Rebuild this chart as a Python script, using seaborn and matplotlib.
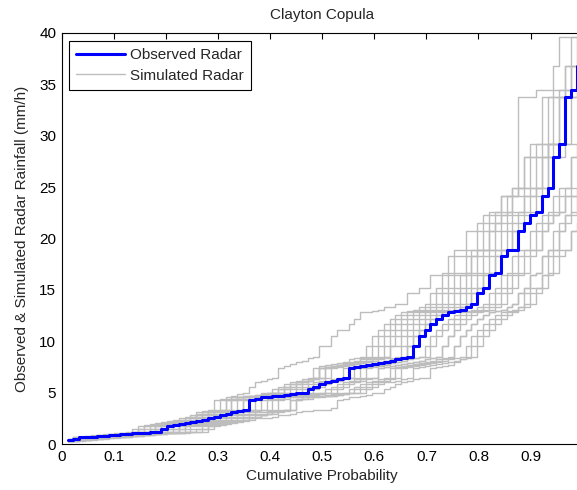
import numpy as np
import pandas as pd
import matplotlib
matplotlib.use("Agg")
import matplotlib.pyplot as plt
from matplotlib.lines import Line2D
import seaborn as sns

# Sorted observed radar rainfall (mm/h)
observed_radar = [
    0.40, 0.45, 0.65, 0.70, 0.70, 0.75, 0.80, 0.85, 0.90, 0.95, 1.00,
    1.05, 1.10, 1.10, 1.15, 1.15, 1.50, 1.80, 1.85, 1.90, 2.00, 2.10,
    2.25, 2.35, 2.50, 2.65, 2.80, 2.95, 3.10, 3.20, 3.35, 4.30, 4.40,
    4.55, 4.60, 4.65, 4.70, 4.80, 4.85, 4.95, 5.00, 5.40, 5.50, 5.80,
    6.05, 6.10, 6.30, 6.45, 7.35, 7.45, 7.55, 7.65, 7.75, 7.85, 8.00,
    8.10, 8.25, 8.35, 8.50, 9.50, 10.5, 11.1, 11.7, 12.2, 12.6, 12.8,
    12.9, 13.0, 13.3, 13.6, 14.7, 15.2, 16.4, 16.6, 18.3, 18.9, 18.9,
    20.7, 21.5, 22.3, 22.6, 24.1, 24.9, 27.9, 29.2, 33.8, 34.5, 36.8,
]

# Sorted simulated radar rainfall realisations (mm/h)
simulated_radar = [
    [0.45, 0.65, 0.70, 0.70, 0.75, 0.80, 0.85, 0.90, 0.95, 1.00, 1.05,
     1.15, 1.50, 1.80, 1.85, 1.90, 2.00, 2.10, 2.25, 2.35, 2.50, 2.65,
     3.10, 3.20, 3.35, 4.30, 4.40, 4.60, 4.70, 4.85, 5.00, 5.50, 6.05,
     6.10, 6.30, 6.45, 7.35, 7.55, 7.75, 8.00, 8.10, 8.35, 8.50, 9.50,
     9.50, 10.5, 11.1, 11.1, 11.7, 12.2, 12.8, 12.8, 12.9, 13.0, 13.3,
     13.3, 13.6, 13.6, 14.7, 14.7, 15.2, 15.2, 16.4, 16.4, 16.6, 18.3,
     18.9, 18.9, 20.7, 20.7, 21.5, 22.3, 22.6, 22.6, 24.1, 24.1, 24.9,
     33.8, 33.8, 33.8, 34.5, 34.5, 34.5, 36.8, 39.6, 39.6, 39.6, 39.6],
    [0.40, 0.65, 0.65, 0.70, 0.75, 0.75, 0.80, 0.90, 0.95, 1.00, 1.05,
     1.15, 1.15, 1.50, 1.80, 1.85, 1.90, 2.00, 2.10, 2.25, 2.35, 2.50,
     2.80, 2.95, 3.10, 3.20, 3.35, 4.30, 4.55, 4.60, 4.65, 4.70, 4.80,
     4.95, 5.00, 5.40, 5.50, 5.80, 6.05, 6.10, 6.30, 6.45, 7.35, 7.55,
     7.65, 7.75, 7.85, 8.00, 8.25, 8.35, 8.50, 9.50, 10.5, 11.1, 11.7,
     12.2, 12.6, 12.8, 12.9, 13.0, 13.3, 13.6, 14.7, 15.2, 16.4, 16.6,
     18.3, 18.3, 18.9, 18.9, 20.7, 21.5, 22.3, 22.6, 24.1, 24.1, 24.9,
     24.9, 27.9, 27.9, 29.2, 29.2, 33.8, 33.8, 34.5, 36.8, 39.6, 39.6],
    [0.35, 0.45, 0.60, 0.70, 0.75, 0.80, 0.85, 0.90, 0.95, 1.00, 1.05,
     1.10, 1.15, 1.15, 1.50, 1.80, 1.85, 1.90, 2.00, 2.10, 2.25, 2.35,
     2.65, 2.80, 2.95, 3.10, 3.20, 3.35, 4.30, 4.55, 4.60, 4.65, 4.70,
     4.85, 4.95, 5.00, 5.40, 5.50, 5.80, 6.05, 6.10, 6.30, 6.45, 7.35,
     7.45, 7.55, 7.65, 7.75, 7.85, 8.00, 8.25, 8.35, 8.50, 9.50, 10.5,
     11.1, 11.7, 12.2, 12.6, 12.8, 12.9, 13.0, 13.3, 13.6, 14.7, 15.2,
     16.4, 16.4, 16.6, 18.3, 18.9, 18.9, 20.7, 21.5, 22.3, 22.6, 24.1,
     24.1, 24.9, 24.9, 27.9, 27.9, 29.2, 29.2, 33.8, 34.5, 36.8, 36.8],
    [0.40, 0.50, 0.65, 0.70, 0.75, 0.80, 0.85, 0.85, 0.90, 1.00, 1.05,
     1.10, 1.10, 1.15, 1.15, 1.50, 1.80, 1.85, 1.90, 2.00, 2.10, 2.25,
     2.50, 2.65, 2.80, 2.95, 3.10, 3.20, 3.35, 4.30, 4.40, 4.55, 4.60,
     4.70, 4.80, 4.85, 4.95, 5.00, 5.40, 5.50, 5.80, 6.10, 6.30, 6.45,
     7.35, 7.45, 7.55, 7.65, 7.75, 7.85, 8.00, 8.10, 8.25, 8.35, 8.50,
     9.50, 10.5, 11.1, 11.7, 12.2, 12.6, 12.8, 12.9, 13.0, 13.3, 13.6,
     14.7, 15.2, 16.4, 16.6, 18.3, 18.9, 18.9, 20.7, 21.5, 22.3, 22.6,
     22.6, 24.1, 24.1, 24.9, 24.9, 27.9, 27.9, 29.2, 29.2, 33.8, 34.5],
    [0.35, 0.40, 0.50, 0.60, 0.70, 0.70, 0.75, 0.80, 0.85, 0.90, 0.95,
     1.00, 1.10, 1.10, 1.15, 1.30, 1.50, 1.80, 1.85, 1.90, 2.00, 2.10,
     2.35, 2.50, 2.65, 2.80, 2.95, 3.10, 3.20, 3.35, 4.30, 4.40, 4.55,
     4.65, 4.70, 4.80, 4.85, 4.95, 5.00, 5.40, 5.50, 5.80, 6.05, 6.10,
     6.45, 7.35, 7.45, 7.55, 7.65, 7.75, 7.85, 8.00, 8.10, 8.25, 8.35,
     8.35, 8.50, 9.50, 10.5, 11.1, 11.7, 12.2, 12.6, 12.8, 12.9, 13.0,
     13.3, 13.6, 14.7, 15.2, 16.4, 16.6, 18.3, 18.9, 18.9, 20.7, 21.5,
     22.3, 22.6, 24.1, 24.9, 27.9, 29.2, 29.2, 29.2, 33.8, 33.8, 33.8],
    [0.30, 0.40, 0.45, 0.55, 0.65, 0.70, 0.70, 0.75, 0.80, 0.85, 0.90,
     1.00, 1.05, 1.10, 1.10, 1.15, 1.15, 1.50, 1.80, 1.85, 1.90, 2.00,
     2.10, 2.25, 2.35, 2.50, 2.65, 2.80, 2.95, 3.10, 3.20, 3.35, 4.30,
     4.55, 4.60, 4.65, 4.70, 4.80, 4.85, 4.95, 5.00, 5.40, 5.50, 5.80,
     6.05, 6.10, 6.30, 6.45, 6.45, 7.35, 7.45, 7.65, 7.85, 8.00, 8.10,
     8.25, 8.35, 8.50, 9.50, 10.5, 11.1, 11.7, 12.2, 12.6, 12.8, 12.9,
     13.0, 13.3, 13.6, 14.7, 15.2, 16.4, 16.6, 18.3, 18.9, 18.9, 20.7,
     20.7, 21.5, 22.3, 22.6, 24.1, 24.9, 27.9, 27.9, 29.2, 29.2, 29.2],
    [0.30, 0.35, 0.45, 0.50, 0.60, 0.65, 0.70, 0.70, 0.75, 0.80, 0.85,
     0.95, 1.00, 1.05, 1.10, 1.10, 1.15, 1.15, 1.50, 1.80, 1.85, 1.90,
     2.00, 2.10, 2.25, 2.35, 2.50, 2.65, 2.80, 2.95, 3.10, 3.20, 3.35,
     3.35, 4.30, 4.40, 4.55, 4.60, 4.65, 4.70, 4.80, 4.85, 4.95, 5.00,
     5.40, 5.50, 5.80, 6.05, 6.10, 6.30, 6.45, 7.35, 7.45, 7.55, 7.65,
     7.85, 8.00, 8.10, 8.25, 8.35, 8.50, 9.50, 10.5, 11.1, 11.7, 12.2,
     12.6, 12.8, 12.9, 13.0, 13.3, 13.6, 14.7, 15.2, 16.4, 16.6, 18.3,
     18.9, 18.9, 20.7, 21.5, 22.3, 22.6, 24.1, 24.9, 24.9, 27.9, 27.9],
    [0.30, 0.35, 0.40, 0.45, 0.55, 0.65, 0.70, 0.70, 0.75, 0.80, 0.80,
     0.90, 0.95, 1.00, 1.05, 1.10, 1.10, 1.15, 1.15, 1.50, 1.80, 1.85,
     1.85, 1.90, 2.00, 2.10, 2.25, 2.35, 2.50, 2.65, 2.80, 2.95, 3.10,
     3.10, 3.20, 3.35, 4.30, 4.40, 4.55, 4.60, 4.65, 4.70, 4.80, 4.85,
     4.95, 5.00, 5.40, 5.50, 5.80, 6.05, 6.10, 6.30, 6.45, 7.35, 7.45,
     7.55, 7.65, 7.75, 7.85, 8.00, 8.10, 8.25, 8.35, 8.50, 9.50, 10.5,
     11.7, 12.2, 12.6, 12.8, 12.9, 13.0, 13.3, 13.6, 14.7, 15.2, 16.4,
     16.6, 18.3, 18.9, 18.9, 20.7, 21.5, 22.3, 22.6, 24.1, 24.9, 24.9],
    [0.30, 0.30, 0.40, 0.45, 0.50, 0.60, 0.65, 0.70, 0.70, 0.75, 0.80,
     0.85, 0.90, 0.95, 1.00, 1.05, 1.10, 1.10, 1.15, 1.15, 1.50, 1.80,
     1.80, 1.85, 1.90, 2.00, 2.10, 2.25, 2.35, 2.50, 2.65, 2.80, 2.95,
     2.95, 3.10, 3.20, 3.35, 3.35, 4.30, 4.40, 4.55, 4.60, 4.65, 4.70,
     4.70, 4.80, 4.85, 4.95, 5.00, 5.40, 5.50, 5.80, 6.05, 6.10, 6.30,
     6.45, 7.35, 7.45, 7.55, 7.65, 7.75, 7.85, 8.00, 8.10, 8.25, 8.35,
     9.50, 10.5, 11.1, 11.7, 12.2, 12.6, 12.8, 12.9, 13.0, 13.3, 13.6,
     14.7, 15.2, 16.4, 16.6, 18.3, 18.9, 18.9, 20.7, 21.5, 22.3, 22.6],
    [0.30, 0.30, 0.35, 0.40, 0.45, 0.50, 0.55, 0.65, 0.70, 0.70, 0.75,
     0.80, 0.85, 0.90, 0.95, 1.00, 1.05, 1.10, 1.10, 1.15, 1.15, 1.50,
     1.50, 1.80, 1.85, 1.90, 2.00, 2.10, 2.25, 2.35, 2.50, 2.65, 2.80,
     2.80, 2.95, 3.10, 3.20, 3.35, 3.35, 4.30, 4.40, 4.55, 4.60, 4.65,
     4.65, 4.70, 4.80, 4.85, 4.95, 5.00, 5.00, 5.40, 5.50, 5.80, 6.05,
     6.05, 6.10, 6.30, 6.45, 7.35, 7.45, 7.55, 7.65, 7.75, 7.85, 8.00,
     8.10, 8.25, 8.35, 8.50, 9.50, 10.5, 11.1, 11.7, 12.2, 12.6, 12.8,
     13.0, 13.3, 13.6, 14.7, 15.2, 16.4, 16.6, 18.3, 18.9, 20.7, 21.5],
    [0.30, 0.30, 0.30, 0.35, 0.40, 0.45, 0.50, 0.55, 0.60, 0.65, 0.70,
     0.75, 0.80, 0.85, 0.90, 0.95, 1.00, 1.05, 1.10, 1.10, 1.15, 1.15,
     1.15, 1.15, 1.50, 1.80, 1.85, 1.90, 2.00, 2.10, 2.25, 2.35, 2.50,
     2.50, 2.50, 2.65, 2.80, 2.80, 2.95, 3.10, 3.20, 3.20, 3.35, 3.35,
     3.35, 3.50, 4.30, 4.40, 4.55, 4.60, 4.70, 4.80, 4.95, 5.00, 5.40,
     5.50, 5.80, 6.05, 6.10, 6.30, 6.45, 6.45, 7.35, 7.45, 7.55, 7.65,
     8.00, 8.25, 8.50, 9.50, 10.5, 11.1, 11.7, 12.2, 12.6, 12.8, 12.9,
     13.3, 14.7, 15.2, 15.2, 16.4, 16.6, 18.3, 18.9, 18.9, 20.7, 20.7],
    [0.30, 0.35, 0.40, 0.40, 0.50, 0.55, 0.60, 0.65, 0.70, 0.70, 0.75,
     0.80, 0.85, 0.90, 0.95, 1.00, 1.05, 1.10, 1.10, 1.10, 1.15, 1.15,
     1.50, 1.50, 1.80, 1.85, 1.90, 2.00, 2.10, 2.25, 2.35, 2.50, 2.65,
     2.80, 2.95, 3.10, 3.20, 3.35, 4.30, 4.40, 4.55, 4.60, 4.65, 4.70,
     4.80, 4.85, 4.95, 5.00, 5.40, 5.50, 5.80, 6.05, 6.10, 6.30, 6.45,
     7.35, 7.45, 7.55, 7.65, 7.75, 7.85, 8.00, 8.10, 8.25, 8.35, 8.50,
     9.50, 10.5, 11.1, 11.7, 12.2, 12.6, 12.8, 12.9, 13.0, 13.3, 13.6,
     14.7, 15.2, 16.4, 16.6, 18.3, 18.9, 20.7, 21.5, 22.3, 22.6, 24.1],
    [0.40, 0.45, 0.55, 0.65, 0.70, 0.75, 0.80, 0.85, 0.90, 0.95, 1.00,
     1.10, 1.15, 1.15, 1.50, 1.80, 1.85, 1.90, 2.00, 2.10, 2.25, 2.35,
     2.50, 2.80, 2.95, 3.10, 3.20, 3.35, 4.30, 4.40, 4.55, 4.60, 4.65,
     4.70, 4.80, 4.95, 5.00, 5.40, 5.50, 5.80, 6.05, 6.10, 6.45, 7.35,
     7.45, 7.55, 7.65, 7.85, 8.00, 8.10, 8.35, 8.50, 9.50, 10.5, 11.1,
     11.7, 12.2, 12.6, 12.8, 12.9, 13.0, 13.3, 13.6, 14.7, 15.2, 16.4,
     16.6, 16.6, 18.3, 18.9, 18.9, 20.7, 21.5, 22.3, 22.6, 24.1, 24.1,
     24.9, 24.9, 27.9, 27.9, 29.2, 29.2, 29.2, 33.8, 33.8, 34.5, 34.5],
    [0.35, 0.40, 0.45, 0.55, 0.60, 0.70, 0.75, 0.80, 0.80, 0.85, 0.90,
     0.95, 1.00, 1.05, 1.10, 1.10, 1.15, 1.50, 1.50, 1.80, 1.85, 1.90,
     2.00, 2.10, 2.25, 2.50, 2.65, 2.80, 2.95, 3.10, 3.20, 3.35, 3.35,
     4.30, 4.40, 4.55, 4.60, 4.65, 4.70, 4.80, 4.95, 5.00, 5.40, 5.50,
     5.80, 6.05, 6.10, 6.30, 6.45, 6.45, 7.35, 7.45, 7.55, 7.65, 7.75,
     7.85, 8.00, 8.10, 8.25, 8.35, 8.50, 8.50, 9.50, 10.5, 11.1, 11.7,
     12.2, 12.6, 12.8, 12.9, 13.0, 13.3, 13.6, 14.7, 15.2, 16.4, 16.6,
     18.3, 18.9, 18.9, 20.7, 21.5, 22.3, 22.6, 24.1, 24.9, 27.9, 29.2],
    [0.45, 0.60, 0.70, 0.75, 0.80, 0.85, 0.90, 0.95, 1.00, 1.05, 1.10,
     1.15, 1.50, 1.80, 1.85, 1.90, 2.00, 2.10, 2.25, 2.35, 2.50, 2.65,
     2.80, 2.95, 3.10, 3.20, 3.35, 4.30, 4.40, 4.55, 4.60, 4.65, 4.70,
     4.80, 4.85, 4.95, 5.00, 5.40, 5.50, 5.80, 6.05, 6.10, 6.30, 6.45,
     7.35, 7.45, 7.55, 7.65, 7.75, 7.85, 8.00, 8.10, 8.25, 8.35, 8.50,
     9.50, 9.50, 10.5, 11.1, 11.7, 12.2, 12.6, 12.8, 12.9, 13.0, 13.3,
     13.6, 14.7, 15.2, 16.4, 16.6, 18.3, 18.9, 18.9, 20.7, 21.5, 22.3,
     22.6, 24.1, 24.9, 24.9, 27.9, 29.2, 33.8, 33.8, 34.5, 36.8, 36.8],
    [0.30, 0.30, 0.35, 0.40, 0.45, 0.50, 0.55, 0.60, 0.65, 0.70, 0.70,
     0.75, 0.80, 0.85, 0.90, 0.95, 1.00, 1.05, 1.05, 1.10, 1.10, 1.15,
     1.15, 1.50, 1.80, 1.85, 1.90, 2.00, 2.10, 2.25, 2.35, 2.50, 2.65,
     2.80, 2.95, 2.95, 3.10, 3.20, 3.35, 4.30, 4.40, 4.40, 4.55, 4.60,
     4.65, 4.70, 4.80, 4.85, 4.95, 5.00, 5.40, 5.50, 5.80, 6.05, 6.10,
     6.30, 6.45, 7.35, 7.45, 7.55, 7.65, 7.75, 7.85, 8.00, 8.10, 8.25,
     8.35, 8.50, 9.50, 10.5, 11.1, 11.7, 12.2, 12.6, 12.8, 12.9, 13.0,
     13.3, 13.6, 14.7, 15.2, 16.4, 18.3, 18.9, 20.7, 22.3, 24.1, 24.1],
    [0.35, 0.45, 0.55, 0.65, 0.70, 0.75, 0.80, 0.85, 0.90, 0.95, 1.00,
     1.05, 1.10, 1.15, 1.15, 1.50, 1.80, 1.85, 1.90, 2.00, 2.10, 2.25,
     2.35, 2.50, 2.65, 2.80, 2.95, 3.10, 3.20, 3.35, 4.30, 4.40, 4.55,
     4.60, 4.65, 4.70, 4.80, 4.85, 4.95, 5.00, 5.40, 5.50, 5.80, 6.05,
     6.10, 6.30, 6.45, 7.35, 7.45, 7.55, 7.65, 7.75, 7.85, 8.00, 8.10,
     8.25, 8.35, 8.50, 9.50, 10.5, 11.1, 11.7, 12.2, 12.6, 12.8, 12.9,
     13.0, 13.3, 13.6, 14.7, 15.2, 16.4, 16.6, 18.3, 18.9, 18.9, 20.7,
     21.5, 22.3, 22.6, 24.1, 24.9, 27.9, 29.2, 29.2, 33.8, 34.5, 34.5],
    [0.50, 0.65, 0.70, 0.75, 0.85, 0.90, 0.95, 1.00, 1.05, 1.10, 1.15,
     1.50, 1.80, 1.85, 1.90, 2.00, 2.10, 2.25, 2.35, 2.50, 2.65, 2.80,
     2.95, 3.10, 3.20, 3.35, 4.30, 4.40, 4.55, 4.60, 4.65, 4.70, 4.80,
     4.85, 4.95, 5.00, 5.40, 5.50, 5.80, 6.05, 6.10, 6.30, 6.45, 7.35,
     7.45, 7.55, 7.65, 7.75, 7.85, 8.00, 8.10, 8.25, 8.35, 8.50, 9.50,
     10.5, 11.1, 11.7, 12.2, 12.6, 12.8, 12.9, 13.0, 13.3, 13.6, 14.7,
     15.2, 16.4, 16.6, 18.3, 18.9, 18.9, 20.7, 21.5, 22.3, 22.6, 24.1,
     24.9, 27.9, 29.2, 29.2, 33.8, 33.8, 34.5, 34.5, 36.8, 36.8, 39.6],
    [0.30, 0.35, 0.40, 0.50, 0.55, 0.60, 0.65, 0.70, 0.75, 0.75, 0.80,
     0.85, 0.90, 0.95, 1.00, 1.05, 1.10, 1.15, 1.15, 1.50, 1.80, 1.85,
     1.90, 2.00, 2.10, 2.25, 2.35, 2.50, 2.65, 2.80, 2.95, 3.10, 3.20,
     3.35, 3.35, 4.30, 4.40, 4.55, 4.60, 4.65, 4.70, 4.80, 4.85, 4.95,
     5.00, 5.40, 5.50, 5.80, 6.05, 6.10, 6.30, 6.45, 6.45, 7.35, 7.45,
     7.55, 7.65, 7.75, 7.85, 8.00, 8.10, 8.25, 8.35, 8.50, 9.50, 10.5,
     11.1, 11.7, 12.2, 12.6, 12.8, 12.9, 13.0, 13.3, 13.6, 14.7, 15.2,
     16.4, 16.6, 18.3, 18.9, 20.7, 21.5, 22.3, 22.6, 24.1, 24.1, 24.9],
]

x_ticks = [0, 0.1, 0.2, 0.3, 0.4, 0.5, 0.6, 0.7, 0.8, 0.9, 1.0]
x_tick_labels = ["0", "0.1", "0.2", "0.3", "0.4", "0.5", "0.6", "0.7", "0.8", "0.9", ""]
y_ticks = [0, 5, 10, 15, 20, 25, 30, 35, 40]

# Empirical plotting positions i/(n+1)
n_obs = len(observed_radar)
cum_prob = np.arange(1, n_obs + 1) / (n_obs + 1)

sim_df = pd.DataFrame({
    "prob": np.tile(cum_prob, len(simulated_radar)),
    "rain": np.concatenate([np.asarray(s) for s in simulated_radar]),
    "run": np.repeat(np.arange(len(simulated_radar)), n_obs),
})
obs_df = pd.DataFrame({"prob": cum_prob, "rain": observed_radar})

sns.set_style("white")
plt.rcParams["font.family"] = ["Liberation Sans", "DejaVu Sans"]
plt.rcParams["font.size"] = 11

fig = plt.figure(figsize=(5.77, 4.90), dpi=100)
ax = fig.add_axes([61.7 / 577, 46 / 490, 521 / 577, 411 / 490])

gray = "#bdbdbd"
blue = "#0000ff"

sns.lineplot(data=sim_df, x="prob", y="rain", units="run", estimator=None,
             color=gray, linewidth=1.0, drawstyle="steps-post",
             legend=False, ax=ax)
sns.lineplot(data=obs_df, x="prob", y="rain", estimator=None,
             color=blue, linewidth=2.2, drawstyle="steps-post",
             legend=False, ax=ax)

ax.set_xlim(0, 1)
ax.set_ylim(0, 40)
ax.set_xticks(x_ticks)
ax.set_xticklabels(x_tick_labels)
ax.set_yticks(y_ticks)
ax.tick_params(direction="in", length=4, width=0.8, color="black",
               top=True, right=True, labelsize=11, pad=4, colors="black")
for sp in ax.spines.values():
    sp.set_visible(True)
    sp.set_color("black")
    sp.set_linewidth(0.8)

ax.set_title("Clayton Copula", fontsize=11, pad=10)
ax.set_xlabel("Cumulative Probability", fontsize=11)
ax.set_ylabel("Observed & Simulated Radar Rainfall (mm/h)", fontsize=11)
ax.xaxis.set_label_coords(0.5, -0.062)
ax.yaxis.set_label_coords(-0.062, 0.5)

handles = [Line2D([], [], color=blue, linewidth=2.2),
           Line2D([], [], color=gray, linewidth=1.0)]
leg = ax.legend(handles, ["Observed Radar", "Simulated Radar"],
                loc="upper left", bbox_to_anchor=(7.3 / 521, 1 - 8 / 411),
                borderaxespad=0, fancybox=False, framealpha=1,
                edgecolor="black", fontsize=11, handlelength=3.2,
                handletextpad=0.35, borderpad=0.45, labelspacing=0.45)
leg.get_frame().set_linewidth(0.8)

fig.savefig("out.png", dpi=100)
